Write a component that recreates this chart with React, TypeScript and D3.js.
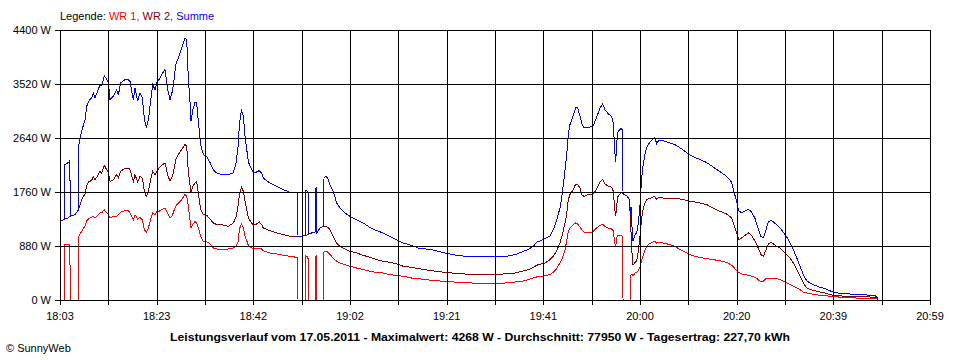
import * as d3 from "d3";

// minutes after 18:03, shared by all series
const minutes = [
  0.2, 0.88, 0.94, 1.69, 1.95, 2.16, 3.03, 3.77, 3.84, 4.38, 5.06, 5.39, 5.73, 6.41, 6.74, 7.08, 7.75, 8.09, 8.43, 8.97,
  9.44, 9.78, 10.12, 10.79, 11.46, 11.8, 12.27, 13.15, 13.82, 14.16, 14.63, 14.84, 15.17, 15.71, 16.18, 16.66, 17.06, 17.47, 17.87, 18.41,
  18.75, 19.22, 19.56, 20.03, 20.57, 21.24, 21.78, 22.25, 22.73, 23.13, 23.4, 23.94, 24.61, 25.29, 25.63, 25.96, 26.3, 26.5, 26.84, 27.31,
  27.65, 27.99, 28.46, 29.0, 29.67, 30.35, 31.02, 31.7, 32.71, 34.05,
  35.06, 35.6, 36.08, 36.28, 36.55, 36.75, 37.09, 37.42, 38.1, 38.77, 39.11, 39.78, 40.32, 40.8, 41.13, 42.48, 43.83, 45.18, 46.53, 47.88,
  48.08, 48.15, 49.02, 49.7, 49.76, 50.17, 50.24, 51.59, 51.65, 51.72, 51.79, 51.92, 51.99, 52.6, 53.27, 53.41, 53.74, 54.15, 54.62, 55.29,
  55.97, 56.64, 57.65, 58.66, 60.01, 61.36, 62.71, 64.06, 65.41, 66.76, 68.11, 69.45,
  71.14, 72.49, 75.18, 77.88, 80.58, 83.28, 85.97, 90.02, 92.04, 93.39, 94.74, 95.75, 96.42, 97.44, 98.11, 99.12, 99.8, 100.47, 101.15, 101.62,
  102.16, 102.49, 102.83, 103.17, 103.84, 104.31, 104.72, 105.19,
  105.54, 106.01, 106.89, 107.76, 108.24, 108.71, 109.25, 109.79, 110.26, 110.93, 111.61, 111.94, 112.21, 112.42, 112.62, 112.89, 113.49, 113.76, 113.9, 114.64,
  115.11, 115.38, 115.52, 115.72, 115.92, 116.33, 116.66, 117.0, 117.34, 117.67, 118.01, 118.35, 118.69, 119.02, 119.5, 119.9, 120.3, 120.71, 121.11, 122.06,
  123.41, 124.42, 125.43, 126.44, 127.45, 128.46, 129.47, 130.82, 132.17, 133.52, 134.87, 135.88, 136.42, 136.89, 137.3, 137.9, 138.58, 139.25, 139.93, 140.6,
  141.27, 141.81, 142.29, 142.76, 143.3, 143.84, 144.31, 144.98, 145.66, 146.33, 147.01, 147.68, 148.36, 149.03, 149.7, 150.38, 151.05, 151.73, 152.74, 153.75,
  154.76, 155.77, 156.78, 158.13, 159.48, 160.83, 162.18, 163.53, 164.54, 165.21, 165.41,
];

const summe = [
  1290, 1310, 2200, 2240, 2265, 1365, 1390, 1470, 2540, 2750, 2940, 3150, 3230, 3300, 3370, 3300, 3430, 3510, 3490, 3655,
  3600, 3540, 3265, 3320, 3428, 3340, 3536, 3591, 3591, 3563, 3340, 3265, 3450, 3240, 3373, 3292, 2960, 2803, 2930, 3290,
  3509, 3428, 3536, 3591, 3672, 3754, 3430, 3265, 3400, 3618, 3835, 3944, 4107, 4268, 4243, 3620, 3220, 2912, 3090, 3220,
  3210, 2912, 2531, 2370, 2340, 2240, 2124, 2070, 2043, 2043,
  2070, 2230, 2531, 2857, 3020, 3085, 3000, 2680, 2250, 2124, 2070, 2086, 2108, 2070, 1988, 1907, 1852, 1798, 1754, 1744,
  1744, 1040, 1038, 1054, 1780, 1770, 1075, 1110, 1480, 1110, 1820, 1830, 1100, 1173, 1200, 1988, 2015, 1988, 1880, 1771,
  1580, 1500, 1418, 1364, 1309, 1255, 1180, 1130, 1092, 1037, 983, 929,
  890, 847, 820, 766, 722, 706, 701, 706, 739, 780, 825, 875, 940, 975, 1000, 1040, 1146, 1300, 1500, 1740,
  2110, 2350, 2700, 2860, 3010, 3135, 3129, 3000,
  2880, 2803, 2814, 2825, 2912, 3009, 3129, 3194, 3100, 3031, 2993, 2884, 2450, 2250, 2570, 2749, 2792, 2780, 1730, 1700,
  1650, 1380, 1520, 1180, 960, 1060, 1100, 1250, 1560, 1993, 2220, 2380, 2480, 2540, 2585, 2613, 2651, 2550, 2600, 2597,
  2558, 2531, 2480, 2423, 2360, 2320, 2290, 2240, 2165, 2090, 2015, 1920, 1745, 1600, 1450, 1425, 1450, 1480, 1430, 1330,
  1150, 1035, 1015, 1130, 1275, 1298, 1275, 1225, 1175, 1105, 1025, 934, 823, 688, 552, 410, 315, 275, 239, 208,
  186, 150, 120, 105, 100, 90, 85, 80, 75, 60, 5,
];

const wr2 = [
  1290, 1310, 1320, 1340, 1360, 1365, 1390, 1470, 1500, 1635, 1730, 1860, 1920, 1950, 2010, 1960, 2040, 2097, 2070, 2195,
  2124, 2090, 1934, 1960, 2043, 1988, 2097, 2151, 2151, 2124, 1988, 1934, 2043, 1920, 2015, 1988, 1771, 1690, 1771, 1988,
  2097, 2043, 2090, 2151, 2195, 2233, 2043, 1934, 2010, 2151, 2287, 2368, 2450, 2542, 2504, 2090, 1880, 1744, 1852, 1907,
  1934, 1744, 1472, 1391, 1380, 1320, 1255, 1228, 1228, 1200,
  1255, 1350, 1554, 1717, 1798, 1836, 1771, 1610, 1340, 1255, 1228, 1238, 1271, 1228, 1173, 1130, 1092, 1065, 1038, 1038,
  1040, 1040, 1038, 1054, 1054, 1065, 1075, 1110, 1110, 1110, 1108, 1106, 1100, 1173, 1200, 1200, 1200, 1184, 1146, 1037,
  929, 875, 831, 793, 766, 728, 695, 657, 630, 614, 587, 549,
  532, 511, 478, 451, 429, 418, 418, 424, 440, 467, 494, 532, 565, 592, 603, 657, 712, 804, 929, 1065,
  1255, 1391, 1635, 1717, 1798, 1890, 1890, 1825,
  1717, 1690, 1717, 1727, 1771, 1836, 1923, 1961, 1890, 1852, 1836, 1771, 1499, 1364, 1554, 1690, 1744, 1744, 1730, 1700,
  1650, 1380, 1100, 760, 570, 610, 640, 800, 1040, 1336, 1499, 1581, 1635, 1651, 1662, 1673, 1690, 1635, 1673, 1662,
  1651, 1651, 1646, 1630, 1608, 1597, 1581, 1554, 1499, 1445, 1401, 1336, 1200, 1092, 983, 1010, 1054, 1092, 1054, 956,
  847, 738, 712, 804, 913, 940, 913, 875, 847, 793, 738, 684, 603, 494, 386, 277, 196, 168, 152, 130,
  114, 87, 71, 65, 60, 55, 50, 50, 45, 40, 5,
];

const wr1 = [
  0, 0, 900, 905, 905, 0, 0, 0, 1040, 1120, 1210, 1290, 1320, 1350, 1360, 1340, 1390, 1418, 1420, 1470,
  1420, 1400, 1336, 1364, 1364, 1391, 1434, 1456, 1456, 1418, 1336, 1309, 1391, 1320, 1347, 1309, 1146, 1108, 1173, 1336,
  1418, 1391, 1440, 1445, 1472, 1499, 1418, 1336, 1380, 1472, 1526, 1581, 1635, 1717, 1690, 1530, 1309, 1173, 1228, 1282,
  1255, 1173, 1037, 956, 950, 915, 847, 831, 820, 831,
  847, 870, 956, 1146, 1217, 1239, 1184, 1050, 890, 847, 836, 836, 847, 831, 804, 766, 750, 728, 712, 695,
  695, 0, 0, 0, 720, 705, 0, 0, 370, 0, 712, 720, 0, 0, 0, 793, 793, 782, 739, 684,
  630, 603, 576, 549, 521, 494, 467, 451, 440, 413, 402, 386,
  358, 348, 320, 304, 288, 277, 277, 277, 293, 304, 331, 358, 375, 386, 397, 413, 451, 511, 603, 684,
  820, 956, 1119, 1173, 1228, 1255, 1239, 1190,
  1146, 1108, 1108, 1108, 1146, 1184, 1217, 1239, 1200, 1173, 1157, 1130, 929, 875, 1010, 1054, 1054, 1037, 0, 0,
  0, 0, 420, 420, 390, 440, 450, 480, 540, 657, 739, 820, 875, 902, 929, 945, 956, 929, 945, 929,
  902, 875, 820, 782, 739, 712, 695, 674, 657, 641, 614, 565, 521, 478, 451, 424, 413, 402, 386, 369,
  331, 293, 304, 348, 358, 358, 358, 348, 331, 304, 277, 250, 223, 196, 168, 130, 114, 103, 87, 76,
  71, 60, 54, 44, 38, 33, 30, 25, 22, 18, 5,
];

const yTicks = [0, 880, 1760, 2640, 3520, 4400];
const timeLabels = ["18:03", "18:23", "18:42", "19:02", "19:21", "19:41", "20:00", "20:20", "20:39", "20:59"];
const totalMinutes = 176; // 18:03 .. 20:59
const gridSteps = 18;

const title = "Leistungsverlauf vom 17.05.2011 - Maximalwert: 4268 W - Durchschnitt: 77950 W - Tagesertrag: 227,70 kWh";

const series = [
  { name: "WR 1", values: wr1, color: "#ff0000" },
  { name: "WR 2", values: wr2, color: "#800000" },
  { name: "Summe", values: summe, color: "#0000ff" },
];

export default function App() {
  const width = 960, height = 360;
  const left = 60, right = 930, top = 30, bottom = 300;

  const x = d3.scaleLinear().domain([0, totalMinutes]).range([left, right]);
  const y = d3.scaleLinear().domain([0, 4400]).range([bottom, top]);

  const gridMinutes = d3.range(gridSteps + 1).map(i => (i * totalMinutes) / gridSteps);

  const line = (vals: number[]) =>
    d3.line<number>()
      .x((_, i) => x(minutes[i]))
      .y(d => y(d))(vals) || "";

  const font = "'Liberation Sans', Arial, sans-serif";

  return (
    <svg width={width} height={height} style={{ position: "absolute", left: 0, top: 0, background: "#fff" }}
      fontFamily={font}>
      <rect width={width} height={height} fill="#fff" />

      {/* legend */}
      <text x={left} y={20} fontSize={11}>
        <tspan fill="#000">Legende: </tspan>
        <tspan fill="#ff0000">WR 1, </tspan>
        <tspan fill="#800000">WR 2, </tspan>
        <tspan fill="#0000ff">Summe</tspan>
      </text>

      {/* data */}
      {series.map(s => (
        <path key={s.name} d={line(s.values)} fill="none" stroke={s.color} strokeWidth={1}
          shapeRendering="crispEdges" />
      ))}

      {/* grid */}
      <g stroke="#000" strokeWidth={1} shapeRendering="crispEdges">
        {yTicks.map(t => (
          <line key={"h" + t} x1={left - 5} x2={right} y1={Math.round(y(t)) + 0.5} y2={Math.round(y(t)) + 0.5} />
        ))}
        {gridMinutes.map((m, i) => (
          <line key={"v" + i} x1={Math.round(x(m)) + 0.5} x2={Math.round(x(m)) + 0.5} y1={top} y2={bottom + 5} />
        ))}
      </g>

      {/* y labels */}
      <g fontSize={11} textAnchor="end">
        {yTicks.map(t => (
          <text key={t} x={left - 9} y={y(t) + 4}>{`${t} W`}</text>
        ))}
      </g>

      {/* x labels */}
      <g fontSize={11} textAnchor="middle">
        {timeLabels.map((lab, i) => (
          <text key={lab} x={x(gridMinutes[i * 2])} y={320}>{lab}</text>
        ))}
      </g>

      <text x={480} y={341} fontSize={11} fontWeight="bold" textAnchor="middle"
        textLength={620} lengthAdjust="spacingAndGlyphs">{title}</text>

      <text x={6} y={352} fontSize={11}>© SunnyWeb</text>
    </svg>
  );
}
